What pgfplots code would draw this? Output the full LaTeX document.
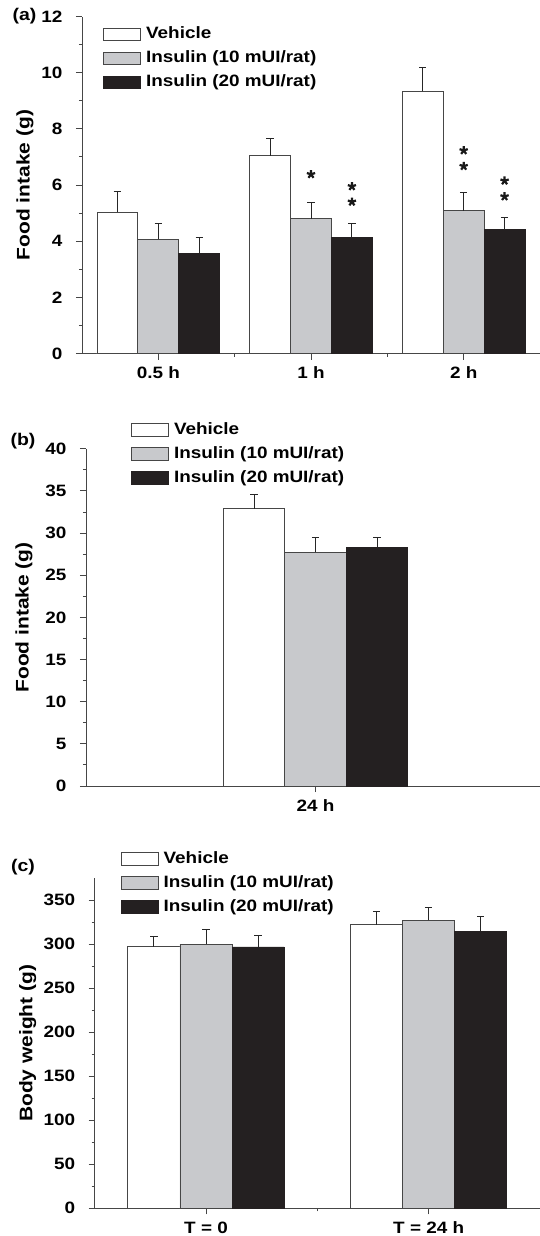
\documentclass[border=0pt]{standalone}
\usepackage{fontspec}
\setmainfont{Liberation Sans}[FakeStretch=1.15]
\usepackage{pgfplots}
\pgfplotsset{compat=1.18}
\definecolor{insA}{RGB}{200,201,204}
\definecolor{insB}{RGB}{36,32,33}
\definecolor{edge}{RGB}{70,70,70}
\newcommand\fs[1]{\fontsize{#1}{#1}\selectfont\bfseries}
\pgfdeclareplotmark{ast5}{%
  \pgfpathmoveto{\pgfpointorigin}\pgfpathlineto{\pgfpointpolar{90}{\pgfplotmarksize}}%
  \pgfpathmoveto{\pgfpointorigin}\pgfpathlineto{\pgfpointpolar{162}{\pgfplotmarksize}}%
  \pgfpathmoveto{\pgfpointorigin}\pgfpathlineto{\pgfpointpolar{234}{\pgfplotmarksize}}%
  \pgfpathmoveto{\pgfpointorigin}\pgfpathlineto{\pgfpointpolar{306}{\pgfplotmarksize}}%
  \pgfpathmoveto{\pgfpointorigin}\pgfpathlineto{\pgfpointpolar{18}{\pgfplotmarksize}}%
  \pgfusepathqstroke}

\pgfplotsset{
  panel/.style={
    scale only axis, anchor=south west,
    axis x line*=bottom, axis y line*=left,
    axis line style={-, line width=0.9bp, color=edge},
    tick align=outside, tick style={line width=0.9bp, color=edge},
    major tick length=6bp, minor tick length=3bp,
    ymin=0, clip=false,
    tick label style={font=\fs{16.5}},
    /pgf/number format/assume math mode=true,
    ylabel style={font=\fs{18.3}, at={(rel axis cs:0,0.5)}, anchor=center},
    yticklabel style={xshift=-10bp},
    xticklabel style={yshift=-4bp},
    legend style={draw=none, fill=none, inner sep=0pt, anchor=north west,
      font=\fs{16.5}, legend cell align=left, row sep=8.5bp,
      nodes={inner sep=0pt, text height=12bp, text depth=3.5bp},
      /tikz/every odd column/.append style={column sep=5bp}},
  },
  bb/.style={ybar, bar shift=0pt, draw=edge, line width=0.9bp,
    legend image code/.code={\draw[##1, line width=0.9bp] (0bp,-6.3bp) rectangle (37bp,6.3bp);}},
  veh/.style={bb, fill=white},
  ia/.style={bb, fill=insA},
  ib/.style={bb, fill=insB, draw=insB},
  eb/.style={error bars/.cd, y dir=plus, y explicit,
    error bar style={line width=0.9bp, color=black!85, solid},
    error mark options={line width=0.9bp, mark size=3.7bp, color=black!85, rotate=90}},
}

\begin{document}
\begin{tikzpicture}
\useasboundingbox (0,0) rectangle (540bp,-1236bp);

% ---------- (a) ----------
\begin{axis}[panel, at={(82bp,-353.5bp)}, width=458bp, height=337bp,
  xmin=-0.5, xmax=2.5, ymax=12, ytick={0,2,...,12}, minor y tick num=1,
  xtick={0,1,2}, xticklabels={0.5 h,1 h,2 h}, minor xtick={0.5,1.5},
  ylabel={Food intake (g)}, ylabel style={yshift=57bp},
  legend style={at={(0.046,0.97)}}]
\addplot[veh, bar width=0.268, eb] coordinates {
  (-0.268,5.04) +- (0,0.72) (0.732,7.05) +- (0,0.59) (1.732,9.33) +- (0,0.84)};
\addplot[ia, bar width=0.268, eb] coordinates {
  (0,4.07) +- (0,0.56) (1,4.80) +- (0,0.57) (2,5.09) +- (0,0.66)};
\addplot[ib, bar width=0.268, eb] coordinates {
  (0.268,3.57) +- (0,0.55) (1.268,4.14) +- (0,0.49) (2.268,4.40) +- (0,0.43)};
\legend{Vehicle, Insulin (10 mUI/rat), Insulin (20 mUI/rat)}
% significance asterisks
\addplot[forget plot, only marks, mark=ast5, mark size=4.3bp,
  mark options={draw=black!90, line width=2.2bp, line cap=butt}] coordinates {
  (1,6.38) (1.268,5.95) (1.268,5.40) (2,7.23) (2,6.67) (2.268,6.15) (2.268,5.59)};
\end{axis}

% ---------- (b) ----------
\begin{axis}[panel, at={(86bp,-786bp)}, width=454bp, height=337.3bp,
  xmin=-1, xmax=0.978, ymax=40, ytick={0,5,...,40}, minor y tick num=1,
  xtick={0}, xticklabels={24 h},
  ylabel={Food intake (g)}, ylabel style={yshift=62bp},
  legend style={at={(0.099,1.079)}}]
\addplot[veh, bar width=0.268, eb] coordinates {(-0.268,32.9) +- (0,1.7)};
\addplot[ia, bar width=0.268, eb] coordinates {(0,27.7) +- (0,1.8)};
\addplot[ib, bar width=0.268, eb] coordinates {(0.268,28.3) +- (0,1.17)};
\legend{Vehicle, Insulin (10 mUI/rat), Insulin (20 mUI/rat)}
\end{axis}

% ---------- (c) ----------
\begin{axis}[panel, at={(94.7bp,-1208.3bp)}, width=445.3bp, height=330bp,
  xmin=-0.5, xmax=1.5, ymax=375, ytick={0,50,...,350}, minor y tick num=1,
  xtick={0,1}, xticklabels={T = 0,T = 24 h}, minor xtick={0.5},
  ylabel={Body weight (g)}, ylabel style={yshift=67bp},
  legend style={at={(0.058,1.083)}}]
\addplot[veh, bar width=0.234, eb] coordinates {
  (-0.234,297.3) +- (0,11.7) (0.766,322.3) +- (0,14.7)};
\addplot[ia, bar width=0.234, eb] coordinates {
  (0,300.3) +- (0,16.7) (1,327.3) +- (0,14.7)};
\addplot[ib, bar width=0.234, eb] coordinates {
  (0.234,297.0) +- (0,13.5) (1.234,315.1) +- (0,16.7)};
\legend{Vehicle, Insulin (10 mUI/rat), Insulin (20 mUI/rat)}
\end{axis}

\node[font=\fs{17}] at (24.5bp,-16.5bp) {(a)};
\node[font=\fs{17}] at (23bp,-441bp) {(b)};
\node[font=\fs{17}] at (23bp,-867bp) {(c)};
\end{tikzpicture}
\end{document}
